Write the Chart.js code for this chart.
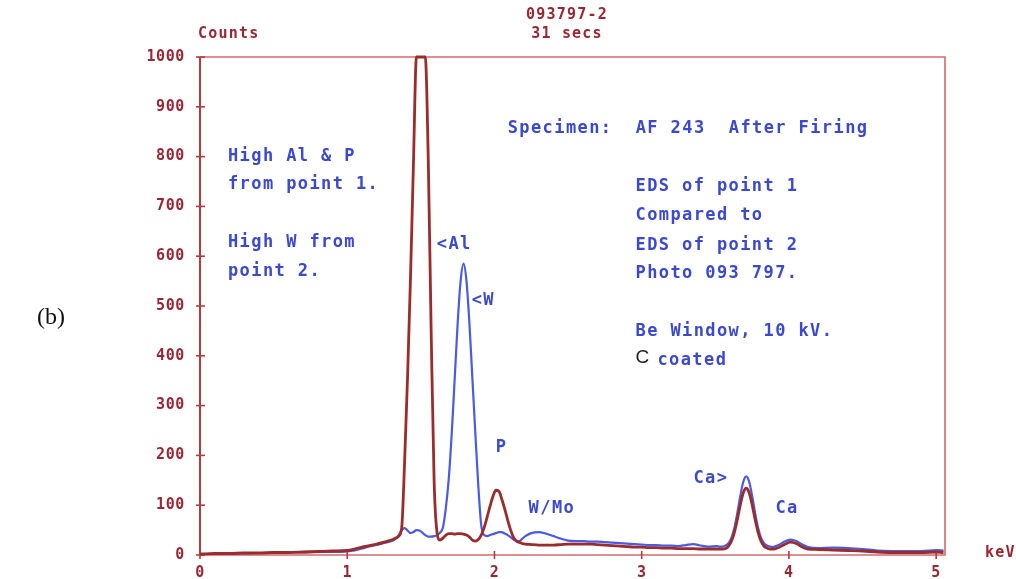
<!DOCTYPE html>
<html>
<head>
<meta charset="utf-8">
<script src="https://cdn.jsdelivr.net/npm/chart.js@4.4.1/dist/chart.umd.min.js"></script>
<style>
  html, body { margin: 0; padding: 0; background: #ffffff; }
  #wrap { position: relative; width: 1016px; height: 579px; }
</style>
</head>
<body>
<div id="wrap"><canvas id="eds" width="1016" height="579"></canvas></div>
<script>
// Photon energy (keV) of each sample along the spectrum
const energyKeV = [
  0, 0.1, 0.2, 0.3, 0.4, 0.5, 0.6, 0.7, 0.8, 0.9, 1.0,
  1.05, 1.1, 1.15, 1.2, 1.25,
  1.31, 1.33, 1.35, 1.37, 1.39, 1.41, 1.43, 1.45, 1.47, 1.49,
  1.51, 1.53, 1.55, 1.57, 1.59, 1.61, 1.63, 1.65, 1.67, 1.69,
  1.71, 1.73, 1.75, 1.77, 1.79, 1.81, 1.83, 1.85, 1.87, 1.89,
  1.91, 1.93, 1.95, 1.97, 1.99, 2.01, 2.03, 2.05, 2.07, 2.09,
  2.11, 2.13, 2.15, 2.17, 2.19, 2.21,
  2.25, 2.30, 2.35, 2.40, 2.45, 2.50, 2.55, 2.60, 2.65, 2.70,
  2.75, 2.80, 2.85, 2.90, 2.95, 3.00, 3.05, 3.10, 3.15, 3.20,
  3.25, 3.30, 3.35, 3.40, 3.45,
  3.51, 3.53, 3.55, 3.57, 3.59, 3.61, 3.63, 3.65, 3.67, 3.69,
  3.71, 3.73, 3.75, 3.77, 3.79, 3.81, 3.83, 3.85, 3.87, 3.89, 3.91,
  3.93, 3.97, 4.01, 4.05, 4.09, 4.13,
  4.2, 4.3, 4.4, 4.5, 4.6, 4.7, 4.8, 4.9, 5.0, 5.05
];

// EDS of point 1 (counts, saturated at the 1000 full scale)
const countsPoint1 = [
  2, 3, 3, 4, 4, 5, 5, 6, 7, 8, 9,
  12, 16, 19, 22, 26,
  31, 34, 38, 55, 190, 360, 560, 790, 1000, 1000,
  1000, 1000, 800, 450, 150, 45, 30, 34, 40, 43,
  43, 42, 43, 43, 42, 40, 36, 30, 28, 31,
  40, 55, 76, 98, 118, 130, 128, 112, 92, 70,
  50, 35, 28, 25, 23, 22,
  21, 20, 20, 20, 21, 22, 22, 22, 22, 21,
  20, 19, 18, 17, 16, 16, 15, 15, 14, 14,
  13, 13, 13, 12, 12,
  12, 12, 12, 13, 18, 28, 46, 72, 101, 125,
  134, 125, 101, 72, 46, 28, 18, 14, 12, 12, 13,
  15, 21, 26, 23, 16, 12,
  11, 10, 9, 8, 6, 5, 5, 5, 6, 5
];

// EDS of point 2 (counts)
const countsPoint2 = [
  2, 2, 3, 3, 4, 4, 5, 5, 6, 6, 7,
  9, 13, 17, 20, 24,
  29, 33, 40, 50, 54, 49, 44, 46, 50, 49,
  45, 40, 37, 37, 38, 40, 45, 55, 95, 155,
  245, 355, 465, 550, 585, 550, 465, 355, 245, 140,
  60, 40, 38, 40, 42, 44, 46, 46, 43, 40,
  36, 31, 28, 28, 33, 38,
  44, 46, 43, 38, 33, 29, 28, 28, 27, 27,
  26, 25, 24, 23, 22, 21, 20, 20, 19, 19,
  18, 20, 22, 19, 17,
  18, 17, 17, 19, 24, 35, 55, 85, 119, 147,
  158, 147, 119, 85, 55, 35, 24, 19, 17, 16, 18,
  20, 27, 31, 28, 21, 16,
  14, 15, 14, 12, 9, 8, 8, 8, 10, 9
];

const xTickValues = [0, 1, 2, 3, 4, 5];
const yTickValues = [0, 100, 200, 300, 400, 500, 600, 700, 800, 900, 1000];

// Text written on the plot, anchored in keV / counts
const plotNotes = [
  { text: 'High Al & P',   x: 0.19, y: 801 },
  { text: 'from point 1.', x: 0.19, y: 743 },
  { text: 'High W from',   x: 0.19, y: 628 },
  { text: 'point 2.',      x: 0.19, y: 570 },
  { text: 'Specimen:  AF 243  After Firing', x: 2.09, y: 857 },
  { text: 'EDS of point 1',    x: 2.958, y: 739 },
  { text: 'Compared to',       x: 2.958, y: 681 },
  { text: 'EDS of point 2',    x: 2.958, y: 622 },
  { text: 'Photo 093 797.',    x: 2.958, y: 566 },
  { text: 'Be Window, 10 kV.', x: 2.958, y: 448 },
  { text: 'coated',            x: 3.107, y: 390 },
  { text: '<Al',  x: 1.608, y: 624 },
  { text: '<W',   x: 1.845, y: 510 },
  { text: 'P',    x: 2.008, y: 215 },
  { text: 'W/Mo', x: 2.232, y: 94 },
  { text: 'Ca>',  x: 3.351, y: 153 },
  { text: 'Ca',   x: 3.908, y: 94 }
];

const RED_TEXT = '#9a2633';
const RED_TRACE = '#9c2b2b';
const BLUE_TRACE = '#4a5ae6';
const BLUE_TEXT = '#3b48d0';
const FRAME_LIGHT = '#d46a6a';
const FRAME_DARK = '#b83a3a';
const MONO = '"DejaVu Sans Mono", "Liberation Mono", monospace';

function drawText(ctx, s, x, y, font, color, spacing, align) {
  ctx.save();
  ctx.font = font;
  ctx.fillStyle = color;
  ctx.letterSpacing = spacing || '0px';
  ctx.textAlign = align || 'left';
  ctx.textBaseline = 'middle';
  ctx.fillText(s, x, y);
  ctx.restore();
}

const framePlugin = {
  id: 'spectrumFrame',
  beforeDraw(chart) {
    chart.ctx.letterSpacing = '0.6px';
  },
  beforeDatasetsDraw(chart) {
    const { ctx, chartArea: a, scales } = chart;
    ctx.save();
    ctx.lineCap = 'butt';
    // top, right and bottom edges of the frame
    ctx.strokeStyle = FRAME_LIGHT;
    ctx.lineWidth = 1.6;
    ctx.beginPath();
    ctx.moveTo(a.left, a.top);
    ctx.lineTo(a.right, a.top);
    ctx.lineTo(a.right, a.bottom);
    ctx.lineTo(a.left, a.bottom);
    ctx.stroke();
    // counts axis
    ctx.strokeStyle = FRAME_DARK;
    ctx.lineWidth = 2;
    ctx.beginPath();
    ctx.moveTo(a.left, a.top);
    ctx.lineTo(a.left, a.bottom);
    ctx.stroke();
    // tick marks crossing both axes
    ctx.lineWidth = 1.6;
    ctx.strokeStyle = FRAME_DARK;
    scales.y.ticks.forEach(t => {
      const py = scales.y.getPixelForValue(t.value);
      ctx.beginPath();
      ctx.moveTo(a.left - 4, py);
      ctx.lineTo(a.left + 5, py);
      ctx.stroke();
    });
    scales.x.ticks.forEach(t => {
      const px = scales.x.getPixelForValue(t.value);
      ctx.beginPath();
      ctx.moveTo(px, a.bottom - 4);
      ctx.lineTo(px, a.bottom + 4);
      ctx.stroke();
    });
    ctx.restore();
  },
  afterDraw(chart) {
    const { ctx, chartArea: a, scales } = chart;
    ctx.letterSpacing = '0px';
    const head = 'bold 15px ' + MONO;
    drawText(ctx, 'Counts', a.left - 2, 34, head, RED_TEXT, '1.2px', 'left');
    drawText(ctx, '093797-2', 567, 15, head, RED_TEXT, '1.2px', 'center');
    drawText(ctx, '31 secs', 567, 34, head, RED_TEXT, '1.2px', 'center');
    drawText(ctx, 'keV', a.right + 40, a.bottom - 2, head, RED_TEXT, '1.2px', 'left');
    drawText(ctx, '(b)', 37, 318, '24px "Liberation Serif", "Times New Roman", serif', '#111111', '0px', 'left');

    const body = 'bold 17px ' + MONO;
    plotNotes.forEach(n => {
      const px = scales.x.getPixelForValue(n.x);
      const py = scales.y.getPixelForValue(n.y);
      drawText(ctx, n.text, px, py, body, BLUE_TEXT, '1.4px', 'left');
    });
    // carbon symbol, printed separately in black
    drawText(ctx, 'C', scales.x.getPixelForValue(2.958), scales.y.getPixelForValue(397),
      '19px "Liberation Sans", Arial, sans-serif', '#222222', '0px', 'left');
  }
};

const toPoints = arr => energyKeV.map((e, i) => ({ x: e, y: arr[i] }));

new Chart(document.getElementById('eds'), {
  type: 'line',
  data: {
    datasets: [
      {
        label: 'EDS of point 1',
        data: toPoints(countsPoint1),
        borderColor: RED_TRACE,
        borderWidth: 2.8,
        pointRadius: 0,
        cubicInterpolationMode: 'monotone',
        borderJoinStyle: 'round',
        clip: 4
      },
      {
        label: 'EDS of point 2',
        data: toPoints(countsPoint2),
        borderColor: BLUE_TRACE,
        borderWidth: 2.2,
        pointRadius: 0,
        cubicInterpolationMode: 'monotone',
        borderJoinStyle: 'round',
        clip: 4
      }
    ]
  },
  options: {
    responsive: false,
    animation: false,
    devicePixelRatio: 1,
    layout: { padding: { left: 0, top: 57, right: 71, bottom: 0 } },
    plugins: { legend: { display: false }, tooltip: { enabled: false } },
    scales: {
      x: {
        type: 'linear',
        min: 0,
        max: 5.06,
        grid: { display: false, drawTicks: false },
        border: { display: false },
        afterFit(scale) { scale.height = 24; },
        afterBuildTicks(scale) { scale.ticks = xTickValues.map(v => ({ value: v })); },
        ticks: {
          autoSkip: false,
          maxRotation: 0,
          padding: 9,
          color: RED_TEXT,
          font: { family: MONO, size: 15, weight: 'bold' },
          callback: v => String(v)
        }
      },
      y: {
        type: 'linear',
        min: 0,
        max: 1000,
        grid: { display: false, drawTicks: false },
        border: { display: false },
        afterFit(scale) { scale.width = 200; },
        afterBuildTicks(scale) { scale.ticks = yTickValues.map(v => ({ value: v })); },
        ticks: {
          autoSkip: false,
          padding: 15,
          color: RED_TEXT,
          font: { family: MONO, size: 15, weight: 'bold' },
          callback: v => String(v)
        }
      }
    }
  },
  plugins: [framePlugin]
});
</script>
</body>
</html>
